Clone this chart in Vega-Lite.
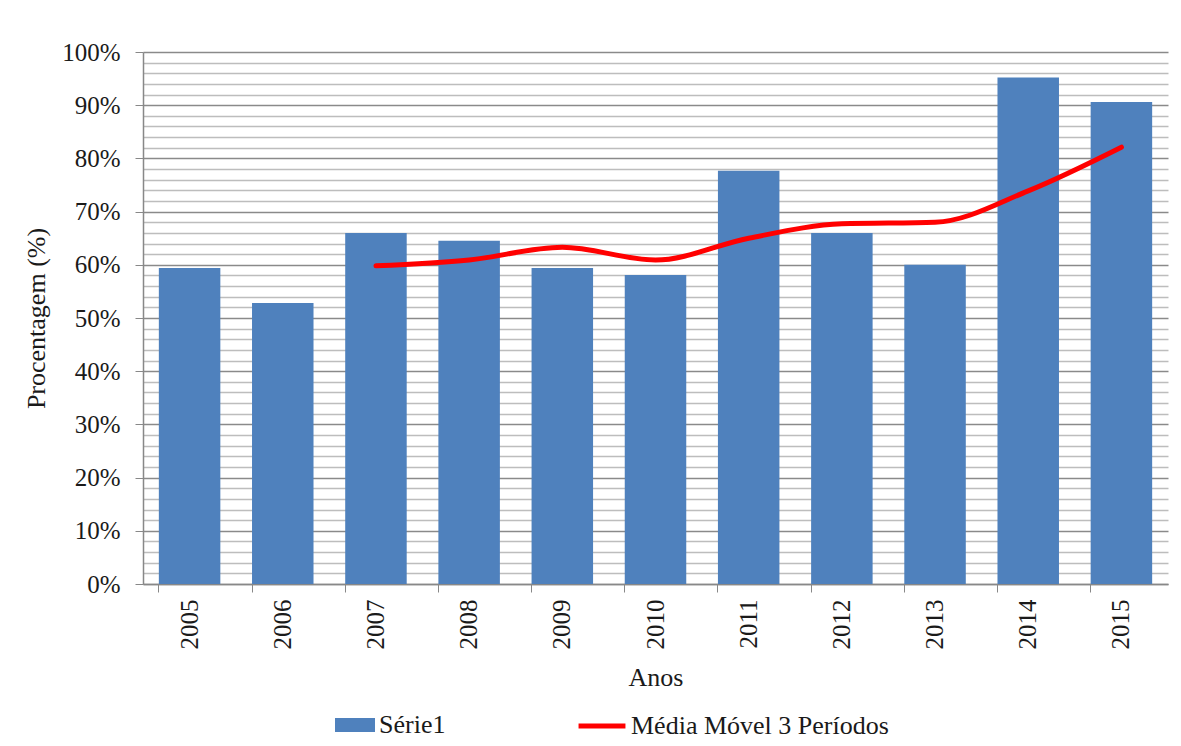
{
  "$schema": "https://vega.github.io/schema/vega-lite/v6.json",
  "autosize": "none",
  "width": 1025,
  "height": 532,
  "padding": {"left": 143, "top": 52, "right": 13, "bottom": 162},
  "background": "white",
  "config": {
    "font": "Liberation Serif",
    "view": {"stroke": null},
    "axis": {"labelFont": "Liberation Serif", "titleFont": "Liberation Serif", "labelColor": "#1a1a1a", "titleColor": "#1a1a1a", "titleFontWeight": "normal"},
    "legend": {"labelFont": "Liberation Serif"}
  },
  "resolve": {"scale": {"fill": "independent", "stroke": "independent"}},
  "data": {
    "values": [
      {"ano": "2005", "pct": 0.594, "mm": null},
      {"ano": "2006", "pct": 0.528, "mm": null},
      {"ano": "2007", "pct": 0.660, "mm": 0.598},
      {"ano": "2008", "pct": 0.645, "mm": 0.609},
      {"ano": "2009", "pct": 0.594, "mm": 0.633},
      {"ano": "2010", "pct": 0.581, "mm": 0.609},
      {"ano": "2011", "pct": 0.777, "mm": 0.650},
      {"ano": "2012", "pct": 0.660, "mm": 0.677},
      {"ano": "2013", "pct": 0.600, "mm": 0.680},
      {"ano": "2014", "pct": 0.952, "mm": 0.739},
      {"ano": "2015", "pct": 0.906, "mm": 0.821}
    ]
  },
  "encoding": {
    "x": {
      "field": "ano",
      "type": "ordinal",
      "scale": {"paddingInner": 0.34, "paddingOuter": 0.17},
      "axis": {
        "title": "Anos",
        "titleFontSize": 26,
        "titlePadding": 15,
        "labelAngle": 270,
        "labelFontSize": 25,
        "labelPadding": 7,
        "labelOverlap": false,
        "bandPosition": 0,
        "tickColor": "#888888",
        "tickSize": 8,
        "domainColor": "#888888",
        "domainWidth": 1.5
      }
    }
  },
  "layer": [
    {
      "mark": {"type": "bar"},
      "encoding": {
        "y": {
          "field": "pct",
          "type": "quantitative",
          "scale": {"domain": [0, 1], "nice": false},
          "axis": {
            "title": "Procentagem (%)",
            "titleFontSize": 26,
            "titlePadding": 12,
            "tickCount": 100,
            "values": [0, 0.02, 0.04, 0.06, 0.08, 0.1, 0.12, 0.14, 0.16, 0.18, 0.2, 0.22, 0.24, 0.26, 0.28, 0.3, 0.32, 0.34, 0.36, 0.38, 0.4, 0.42, 0.44, 0.46, 0.48, 0.5, 0.52, 0.54, 0.56, 0.58, 0.6, 0.62, 0.64, 0.66, 0.68, 0.7, 0.72, 0.74, 0.76, 0.78, 0.8, 0.82, 0.84, 0.86, 0.88, 0.9, 0.92, 0.94, 0.96, 0.98, 1],
            "labelExpr": "round(datum.value*100) % 10 === 0 ? format(datum.value, '.0%') : ''",
            "labelFontSize": 25,
            "labelPadding": 15,
            "labelOverlap": false,
            "labelFlush": false,
            "grid": true,
            "gridColor": {"condition": {"test": "round(datum.value*100) % 10 === 0", "value": "#8a8a8a"}, "value": "#bdbdbd"},
            "gridWidth": 1.3,
            "tickColor": {"condition": {"test": "round(datum.value*100) % 10 === 0", "value": "#888888"}, "value": "transparent"},
            "tickSize": 8,
            "domainColor": "#888888",
            "domainWidth": 1.5
          }
        },
        "fill": {
          "datum": "Série1",
          "type": "nominal",
          "scale": {"domain": ["Série1"], "range": ["#4F81BD"]},
          "legend": {
            "title": null,
            "orient": "none",
            "legendX": 192,
            "legendY": 653,
            "labelFontSize": 26,
            "labelLimit": 500,
            "labelColor": "#1a1a1a",
            "symbolType": "M-1,-0.35H1V0.35H-1Z",
            "symbolSize": 1600,
            "symbolStrokeWidth": 0,
            "labelOffset": 4
          }
        }
      }
    },
    {
      "transform": [{"filter": "isValid(datum.mm)"}],
      "mark": {"type": "line", "strokeWidth": 5, "interpolate": "monotone", "strokeCap": "round"},
      "encoding": {
        "y": {"field": "mm", "type": "quantitative"},
        "stroke": {
          "datum": "Média Móvel 3 Períodos",
          "type": "nominal",
          "scale": {"domain": ["Média Móvel 3 Períodos"], "range": ["#FF0000"]},
          "legend": {
            "title": null,
            "orient": "none",
            "legendX": 433,
            "legendY": 648,
            "labelFontSize": 26,
            "labelLimit": 500,
            "labelColor": "#1a1a1a",
            "symbolType": "stroke",
            "symbolSize": 2200,
            "symbolStrokeWidth": 5,
            "labelOffset": 3
          }
        }
      }
    }
  ]
}
